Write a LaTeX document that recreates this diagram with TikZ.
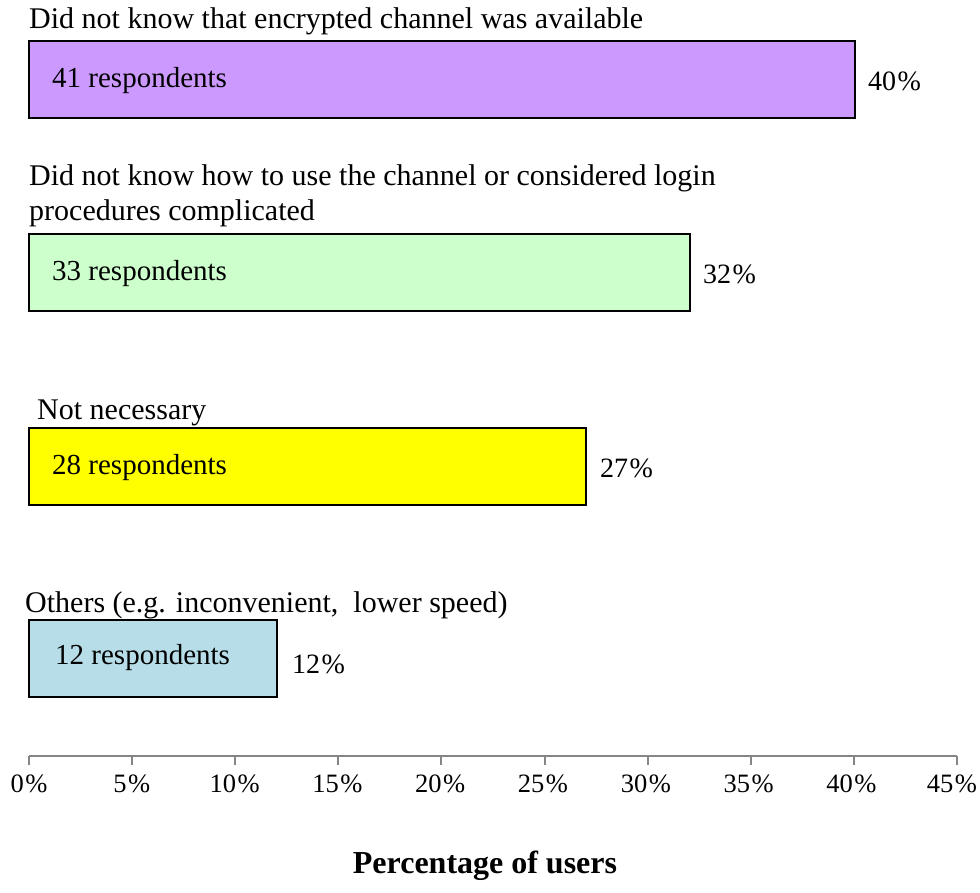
\documentclass[tikz,border=0pt]{standalone}
\usepackage{fontspec}
\setmainfont{Liberation Serif}
\definecolor{barpurple}{HTML}{CC99FF}
\definecolor{bargreen}{HTML}{CCFFCC}
\definecolor{baryellow}{HTML}{FFFF00}
\definecolor{barblue}{HTML}{B7DEE8}
\definecolor{axisgray}{HTML}{868686}
\tikzset{
  bar/.style={draw=black, line width=1.5pt},
  txt/.style={font=\fontsize{30}{34}\selectfont, inner sep=0pt, anchor=west},
  cnt/.style={font=\fontsize{29}{33}\selectfont, inner sep=0pt, anchor=west},
  val/.style={font=\fontsize{28}{32}\selectfont, inner sep=0pt, anchor=west},
  ticklbl/.style={font=\fontsize{26.5}{30}\selectfont, inner sep=0pt, anchor=center},
  axisline/.style={draw=axisgray, line width=2pt}
}
\newcommand{\pct}[1]{#1\kern1.5pt\%}
\begin{document}
\begin{tikzpicture}[x=1pt, y=-1pt]
  \useasboundingbox (0,0) rectangle (980,892);

  % bars: 1% = 20.62 units, starting at x = 29
  \draw[bar, fill=barpurple] (29,41) rectangle (855,118);
  \draw[bar, fill=bargreen]  (29,234) rectangle (690,311);
  \draw[bar, fill=baryellow] (29,428) rectangle (586,505);
  \draw[bar, fill=barblue]   (29,620) rectangle (277,697);

  % category labels
  \node[txt] (c1) at (29,21) {Did not know that encrypted channel was available};
  \node[txt] (c2a) at (29,178) {Did not know how to use the channel or considered login};
  \node[txt] (c2b) at (29,213) {procedures complicated};
  \node[txt] (c3) at (37,413) {Not necessary};
  \node[txt] (c4) at (25,605) {Others (e.g. inconvenient,\ \ lower speed)};

  % respondent counts inside the bars
  \node[cnt] (r1) at (52,81) {41 respondents};
  \node[cnt] (r2) at (52,274) {33 respondents};
  \node[cnt] (r3) at (52,468) {28 respondents};
  \node[cnt] (r4) at (55,658) {12 respondents};

  % values at the bar ends
  \node[val] (v1) at (868,81) {\pct{40}};
  \node[val] (v2) at (703,274) {\pct{32}};
  \node[val] (v3) at (600,468) {\pct{27}};
  \node[val] (v4) at (292,664) {\pct{12}};

  % horizontal axis
  \draw[axisline] (29,756) -- (957,756);
  \foreach \i in {0,...,9} {
    \pgfmathsetmacro{\xx}{29+\i*103.1}
    \draw[axisline] (\xx,756) -- (\xx,765);
  }
  \foreach \i in {0,...,8} {
    \pgfmathsetmacro{\xx}{29+\i*103.1-\i*0.3}
    \pgfmathtruncatemacro{\v}{\i*5}
    \node[ticklbl] (t\i) at (\xx,784) {\pct{\v}};
  }
  \node[ticklbl] (t9) at (952,784) {\pct{45}};

  \node[font=\bfseries\fontsize{32}{36}\selectfont, inner sep=0pt] (title) at (485,866) {Percentage of users};
\end{tikzpicture}
\end{document}
